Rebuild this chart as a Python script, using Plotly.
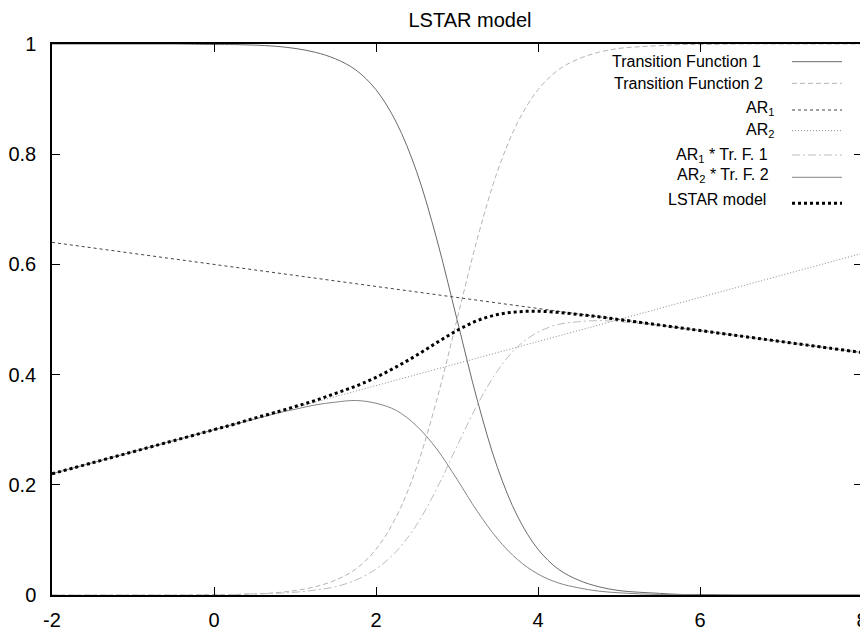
import plotly.graph_objects as go

# ---- data ----
x_vals = [-2, -1.5, -1, -0.5, 0, 0.25, 0.5, 0.75, 1, 1.25, 1.5, 1.75, 2, 2.25, 2.5, 2.75,
          3, 3.25, 3.5, 3.75, 4, 4.25, 4.5, 4.75, 5, 5.25, 5.5, 5.75, 6, 6.5, 7, 7.5, 8]

tf1 = [1.000, 1.000, 1.000, 1.000, 0.999, 0.999, 0.998, 0.996, 0.992, 0.985, 0.973, 0.953,
       0.917, 0.858, 0.769, 0.646, 0.500, 0.354, 0.231, 0.142, 0.083, 0.047, 0.027, 0.015,
       0.008, 0.005, 0.003, 0.001, 0.001, 0.000, 0.000, 0.000, 0.000]

tf2 = [0.000, 0.000, 0.000, 0.000, 0.001, 0.001, 0.002, 0.004, 0.008, 0.015, 0.027, 0.047,
       0.083, 0.142, 0.231, 0.354, 0.500, 0.646, 0.769, 0.858, 0.917, 0.953, 0.973, 0.985,
       0.992, 0.995, 0.997, 0.999, 0.999, 1.000, 1.000, 1.000, 1.000]

ar_x = [-2, 8]
ar1 = [0.64, 0.44]
ar2 = [0.22, 0.62]

# rising dash-dot curve (legend: "AR1 * Tr. F. 1")
ar1_tf = [0.000, 0.000, 0.000, 0.000, 0.000, 0.001, 0.002, 0.003, 0.005, 0.009, 0.015, 0.027,
          0.047, 0.079, 0.127, 0.193, 0.270, 0.345, 0.407, 0.451, 0.477, 0.491, 0.496, 0.498,
          0.496, 0.493, 0.489, 0.484, 0.480, 0.470, 0.460, 0.450, 0.440]

# hump-shaped solid curve (legend: "AR2 * Tr. F. 2")
ar2_tf = [0.220, 0.240, 0.260, 0.280, 0.300, 0.310, 0.319, 0.329, 0.337, 0.345, 0.350, 0.353,
          0.348, 0.335, 0.307, 0.265, 0.210, 0.152, 0.102, 0.064, 0.038, 0.022, 0.013, 0.007,
          0.004, 0.002, 0.001, 0.001, 0.000, 0.000, 0.000, 0.000, 0.000]

lstar = [0.220, 0.240, 0.260, 0.280, 0.300, 0.310, 0.321, 0.331, 0.342, 0.353, 0.366, 0.379,
         0.395, 0.414, 0.435, 0.458, 0.480, 0.498, 0.509, 0.514, 0.515, 0.513, 0.509, 0.505,
         0.500, 0.495, 0.490, 0.485, 0.480, 0.470, 0.460, 0.450, 0.440]

x_ticks = [-2, 0, 2, 4, 6, 8]
y_ticks = [0, 0.2, 0.4, 0.6, 0.8, 1]
y_tick_text = ["0", "0.2", "0.4", "0.6", "0.8", "1"]

names = ["Transition Function 1", "Transition Function 2", "AR<sub>1</sub>", "AR<sub>2</sub>",
         "AR<sub>1</sub> * Tr. F. 1", "AR<sub>2</sub> * Tr. F. 2", "LSTAR model"]

# ---- styles ----
styles = [
    dict(color="#6a6a6a", width=1, dash="solid"),
    dict(color="#b4b4b4", width=1, dash="5px,3px"),
    dict(color="#444444", width=1, dash="3px,3px"),
    dict(color="#8a8a8a", width=1, dash="1px,2px"),
    dict(color="#bdbdbd", width=1, dash="8px,3px,2px,3px"),
    dict(color="#858585", width=1, dash="solid"),
    dict(color="#000000", width=3, dash="3px,3px"),
]

series = [
    (x_vals, tf1), (x_vals, tf2), (ar_x, ar1), (ar_x, ar2),
    (x_vals, ar1_tf), (x_vals, ar2_tf), (x_vals, lstar),
]

FONT = "Liberation Sans, Arial, Helvetica, sans-serif"

fig = go.Figure()
for (xs, ys), nm, st in zip(series, names, styles):
    fig.add_trace(go.Scatter(
        x=xs, y=ys, mode="lines", name=nm, showlegend=False,
        line=dict(color=st["color"], width=st["width"], dash=st["dash"],
                  shape="spline", smoothing=1.0),
        hoverinfo="skip",
    ))

# ---- geometry (the page body adds an 8px offset) ----
OFF = 8
W, H = 868 - OFF, 631 - OFF
L, R, T, B = 52 - OFF, 6, 44 - OFF, 36
PL, PR, PT, PB = 52, 862, 44, 595      # plot area on the page
pw, ph = PR - PL, PB - PT
def px(xp):
    return (xp - PL) / pw
def py(yp):
    return (PB - yp) / ph

# ---- gnuplot-style key (text right-aligned, sample on the right) ----
text_right = [763, 765, 776, 776, 770, 771, 768]
text_y = [61.7, 83.3, 108, 130, 155.5, 175.5, 199]
sample_x = (792, 842)
sample_y = [61.7, 83.3, 110, 130.7, 155, 177.3, 203.3]

annotations = []
shapes = []
for nm, st, tx, ty, sy in zip(names, styles, text_right, text_y, sample_y):
    annotations.append(dict(
        x=px(tx), y=py(ty), xref="paper", yref="paper",
        xanchor="right", yanchor="middle", text=nm, showarrow=False,
        font=dict(family=FONT, size=16, color="#000000")))
    shapes.append(dict(
        type="line", xref="paper", yref="paper",
        x0=px(sample_x[0]), x1=px(sample_x[1]), y0=py(sy), y1=py(sy),
        line=dict(color=st["color"], width=st["width"], dash=st["dash"])))

fig.update_layout(
    width=W, height=H,
    margin=dict(l=L, r=R, t=T, b=B, autoexpand=False),
    paper_bgcolor="white", plot_bgcolor="white",
    font=dict(family=FONT, size=20, color="#000000"),
    title=dict(text="LSTAR model", x=(470 - OFF) / W, xanchor="center",
               y=1 - (19.5 - OFF) / H, yanchor="middle",
               font=dict(family=FONT, size=20, color="#000000")),
    showlegend=False,
    annotations=annotations,
    shapes=shapes,
)
fig.update_xaxes(
    range=[-2, 8], tickvals=x_ticks, ticktext=[str(v) for v in x_ticks],
    ticks="inside", ticklen=8, tickwidth=1.2, tickcolor="#000000",
    showline=True, linecolor="#000000", linewidth=1.5, mirror="ticks",
    showgrid=False, zeroline=False, ticklabelstandoff=6, automargin=False,
    tickfont=dict(family=FONT, size=20),
)
fig.update_yaxes(
    range=[0, 1], tickvals=y_ticks, ticktext=y_tick_text,
    ticks="inside", ticklen=8, tickwidth=1.2, tickcolor="#000000",
    showline=True, linecolor="#000000", linewidth=1.5, mirror="ticks",
    showgrid=False, zeroline=False, ticklabelstandoff=10, automargin=False,
    tickfont=dict(family=FONT, size=20),
)

fig.write_html("out.html")
